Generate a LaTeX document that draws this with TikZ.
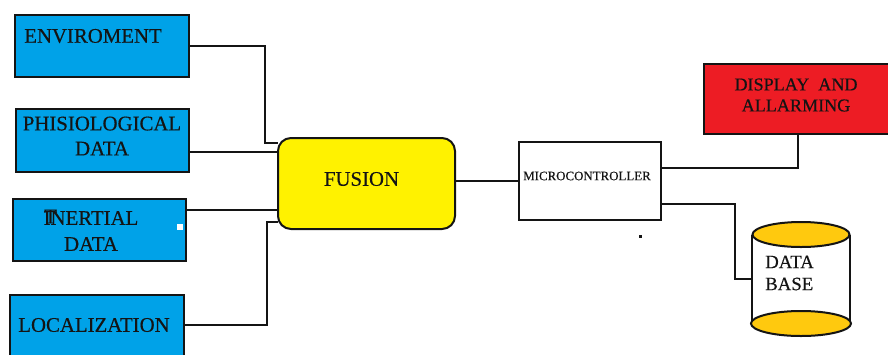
\documentclass[tikz,border=0pt]{standalone}
\usepackage{fontspec}
\setmainfont{Liberation Serif}[BoldFont=Liberation Serif,BoldFeatures={FakeBold=0.35}]
\usetikzlibrary{calc}
\definecolor{bluebox}{HTML}{00A2E8}
\definecolor{redbox}{HTML}{ED1C24}
\definecolor{yellowbox}{HTML}{FFF200}
\definecolor{golden}{HTML}{FFC90E}
\definecolor{inkc}{HTML}{141414}
\tikzset{
  x=1pt,y=-1pt,
  box/.style={draw=inkc,line width=2pt,anchor=north west,inner sep=0pt,outer sep=0pt,align=center},
  bluefill/.style={box,fill=bluebox},
  lab/.style={inner sep=0pt,align=center,text=inkc},
  wire/.style={draw=inkc,line width=2pt,line join=miter},
  disc/.style={draw=inkc,line width=2pt,fill=golden}
}
\begin{document}
\begin{tikzpicture}
\useasboundingbox (0,0) rectangle (888,354);
\begin{scope}
\clip (0,0) rectangle (888,354);
\node[bluefill,minimum width=174pt,minimum height=62pt] (env) at (15,15) {};
\node[bluefill,minimum width=173pt,minimum height=63pt] (phi) at (16,109) {};
\node[bluefill,minimum width=173pt,minimum height=62pt] (ine) at (13,199) {};
\node[bluefill,minimum width=174pt,minimum height=70pt] (loc) at (10,295) {};
\node[box,fill=white,minimum width=142pt,minimum height=78pt] (mic) at (519,142) {};
\node[box,fill=redbox,minimum width=190pt,minimum height=70pt] (dis) at (704,64) {};
\node[inner sep=0pt,outer sep=0pt,minimum width=98pt,minimum height=89pt] (dbb) at (801,279) {};
\fill[white] (dbb.north west) rectangle (dbb.south east);
\draw[wire] (dbb.north west) -- (dbb.south west);
\draw[wire] (dbb.north east) -- (dbb.south east);
\draw[disc] (dbb.north) ellipse [x radius=48.5pt,y radius=12.5pt];
\draw[disc] (dbb.south) ellipse [x radius=50pt,y radius=12.5pt];
\node[box,fill=yellowbox,rounded corners=13pt,minimum width=177pt,minimum height=91pt] (fus) at (278,138) {};
\draw[wire] (env.east) -- ++(76,0) |- ([yshift=-5pt]fus.north west);
\draw[wire] ([yshift=-11.5pt]phi.east) -- ([yshift=-11.5pt]phi.east -| fus.west);
\draw[wire] ([yshift=20pt]ine.east) -- ([yshift=20pt]ine.east -| fus.west);
\draw[wire] ([yshift=5pt]loc.east) -- ++(83,0) |- ([yshift=-38pt]fus.west);
\draw[wire] ([yshift=2.5pt]fus.east) -- ([yshift=2.5pt]fus.east -| mic.west);
\draw[wire] ([yshift=13pt]mic.east) -| (dis.south -| 798,0);
\draw[wire] ([yshift=-23pt]mic.east) -- ++(74,0) |- (dbb.west);
% labels
\node[lab,font=\bfseries\fontsize{20.8}{25}\selectfont] (t1) at (93,36) {ENVIROMENT};
\node[lab,font=\bfseries\fontsize{20.8}{25}\selectfont] (t2) at (102,136) {PHISIOLOGICAL\\DATA};
\node[lab,font=\bfseries\fontsize{20.8}{26}\selectfont] (t3) at (91,231) {INERTIAL\\DATA};
\node[lab,font=\bfseries\fontsize{20.8}{25}\selectfont,anchor=north] (t3b) at (50.5,209.5) {T};
\node[lab,font=\bfseries\fontsize{20.8}{25}\selectfont] (t4) at (94,325) {LOCALIZATION};
\node[lab,font=\bfseries\fontsize{20.8}{25}\selectfont] (t5) at (361.5,179) {FUSION};
\node[lab,font=\bfseries\fontsize{12.9}{15}\selectfont] (t6) at (587,176) {MICROCONTROLLER};
\node[lab,font=\bfseries\fontsize{18.1}{21}\selectfont] (t7) at (796,95) {DISPLAY\ \ AND\\ALLARMING};
\node[lab,font=\bfseries\fontsize{18.8}{22}\selectfont,align=left,anchor=west] (t8) at (765,273) {DATA\\BASE};
% specks
\fill[white] (177,224) rectangle (183,230);
\fill[inkc] (638.5,234.5) rectangle (641.5,238);
\end{scope}
\end{tikzpicture}
\end{document}
